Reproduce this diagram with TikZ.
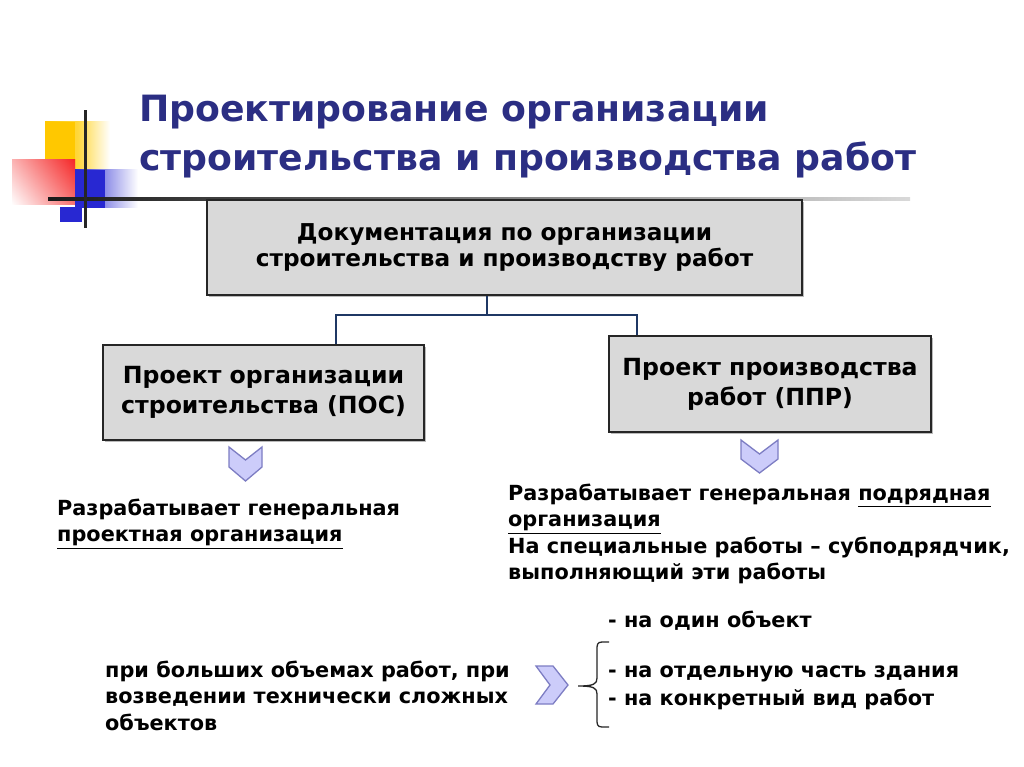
\documentclass[tikz,border=0pt]{standalone}
\usepackage{fontspec}
\setmainfont{DejaVu Sans}
\usetikzlibrary{shadows}
\definecolor{titleblue}{RGB}{43,46,131}
\definecolor{boxgray}{RGB}{217,217,217}
\definecolor{linkblue}{RGB}{31,56,100}
\definecolor{chevfill}{RGB}{204,204,250}
\definecolor{chevdraw}{RGB}{125,125,195}
\definecolor{decoyellow}{RGB}{255,200,0}
\definecolor{decoyellowb}{RGB}{255,215,60}
\definecolor{decored}{RGB}{245,40,40}
\definecolor{decoblue}{RGB}{40,40,210}
\tikzset{
  stagebox/.style={draw=black!85, line width=1.3pt, fill=boxgray, align=center,
    font=\bfseries\fontsize{23.6}{30}\selectfont,
    drop shadow={shadow xshift=2pt, shadow yshift=-2pt, fill=black!45, opacity=0.6}},
  topbox/.style={stagebox, font=\bfseries\fontsize{23.2}{25.5}\selectfont},
  link/.style={draw=linkblue, line width=2.2pt},
  chev/.style={fill=chevfill, draw=chevdraw, line width=1.3pt, line join=miter},
  body/.style={inner sep=0pt, anchor=north west, align=left,
    font=\bfseries\fontsize{20.8}{26.3}\selectfont},
  titletext/.style={inner sep=0pt, anchor=north west, align=left, text=titleblue,
    font=\bfseries\fontsize{36.2}{49}\selectfont},
}
\begin{document}
\begin{tikzpicture}[x=1pt, y=-1pt]
\useasboundingbox (0,0) rectangle (1024,767);
\fill[white] (0,0) rectangle (1024,767);
% decoration
\shade[left color=decoyellow, right color=white, middle color=decoyellowb] (45,122) rectangle (110,172);
\fill[decoyellow] (45,122) rectangle (75,172);
\shade[left color=white, right color=decored] (12,160) rectangle (75,205);
\shade[top color=decored, bottom color=white, opacity=0.35] (12,160) rectangle (75,205);
\shade[left color=decoblue, right color=white] (75,170) rectangle (138,208);
\fill[decoblue] (75,170) rectangle (105,208);
\fill[decoblue] (60,207) rectangle (82,222);
\shade[left color=black!90, right color=black!15] (48,197.5) rectangle (910,200.5);
\fill[black!85] (83.5,110) rectangle (86.5,228);
% title
\node[titletext] (title) at (139,95) {Проектирование организации\\строительства и производства работ};
% boxes
\node[topbox, minimum width=595pt, minimum height=95pt] (doc) at (504.5,247.5) {Документация по организации\\строительства и производству работ};
\node[stagebox, minimum width=321pt, minimum height=95pt] (pos) at (263.5,392.5) {Проект организации\\строительства (ПОС)};
\node[stagebox, minimum width=322pt, minimum height=96pt] (ppr) at (770,384) {Проект производства\\работ (ППР)};
\coordinate (j) at (487,315);
\coordinate (jl) at (336,315);
\coordinate (jr) at (637,315);
\draw[link] (doc.south -| j) -- (j);
\draw[link] (pos.north -| jl) -- (jl) -- (jr) -- (ppr.north -| jr);
% chevrons
\draw[chev] (229,447) -- (245.5,460) -- (262,447) -- (262,467) -- (245.5,481) -- (229,467) -- cycle;
\draw[chev] (741,440) -- (759.5,454) -- (778,440) -- (778,459) -- (759.5,473) -- (741,459) -- cycle;
\draw[chev] (536,666) -- (553,666) -- (568,685) -- (553,704) -- (536,704) -- (550,685) -- cycle;
% texts
\node[body] (t1) at (57,499) {Разрабатывает генеральная\\\underline{проектная организация}};
\node[body] (t2) at (508,484) {Разрабатывает генеральная \underline{подрядная}\\\underline{организация}\\На специальные работы -- субподрядчик,\\выполняющий эти работы};
\node[body] (t3) at (105,661) {при больших объемах работ, при\\возведении технически сложных\\объектов};
\node[body, anchor=base west] (o1) at (608,627) {- на один объект};
\node[body, font=\bfseries\fontsize{20.8}{28}\selectfont] (o2) at (608,666) {- на отдельную часть здания\\- на конкретный вид работ};
% brace
\draw[line width=1.3pt, black!85] (609,642) -- (602,642) .. controls (597,642) and (597,645) .. (597,650) -- (597,678) .. controls (597,684) and (594,686) .. (578,686) .. controls (594,686) and (597,688) .. (597,694) -- (597,719) .. controls (597,724) and (597,727) .. (602,727) -- (609,727);
\end{tikzpicture}
\end{document}
